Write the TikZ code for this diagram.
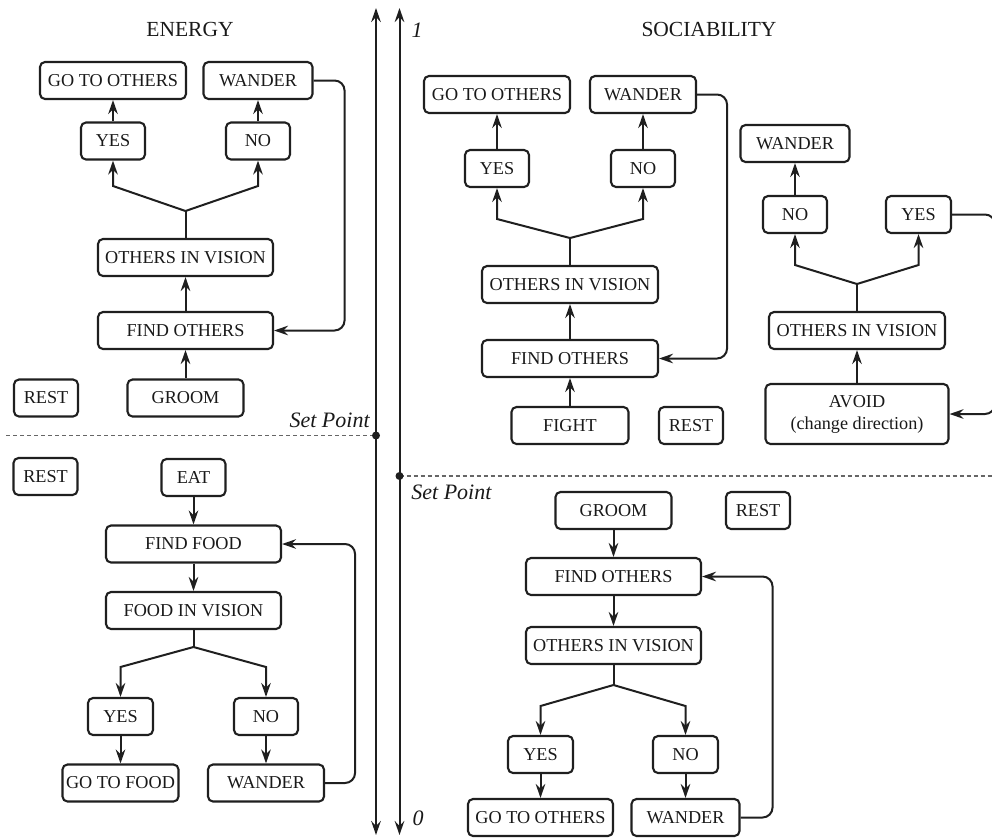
\documentclass[tikz,border=0pt]{standalone}
\usepackage{fontspec}
\setmainfont{Liberation Serif}
\usetikzlibrary{arrows.meta}
\begin{document}
\begin{tikzpicture}[x=0.5pt,y=-0.5pt,
  box/.style={draw=black!88, line width=1.05pt, rounded corners=2.5pt, inner sep=0pt,
    minimum height=18.5pt, font=\fontsize{9.1}{11}\selectfont, align=center, text=black!90},
  arr/.style={line width=1pt, draw=black!88, -{Stealth[length=7pt,width=4.8pt,inset=2.4pt]}},
  plain/.style={line width=1pt, draw=black!88},
  loopline/.style={arr, rounded corners=5pt},
  axisline/.style={line width=1pt, draw=black!88,
    {Stealth[length=7pt,width=4.8pt,inset=2.4pt]}-{Stealth[length=7pt,width=4.8pt,inset=2.4pt]}},
  lbl/.style={font=\fontsize{11}{13}\selectfont\itshape, inner sep=0pt, text=black!90},
  ttl/.style={font=\fontsize{10.75}{13}\selectfont, inner sep=0pt, text=black!90},
  setline/.style={draw=black!60, line width=0.6pt, dash pattern=on 2pt off 1.5pt}
]
\useasboundingbox (0,0) rectangle (992,837);

% ---------------- axes ----------------
\coordinate (a1t) at (376,8);
\coordinate (a1b) at (376,835);
\coordinate (a2t) at (399.5,8);
\coordinate (a2b) at (399.5,835);
\draw[axisline] (a1b) -- (a1t);
\draw[axisline] (a2b) -- (a2t);
\coordinate (sp1) at (376,435.5);
\coordinate (sp2) at (399.5,476);
\coordinate (d1) at (6,435.5);
\coordinate (d2) at (992,476);
\draw[setline] (d1) -- (sp1);
\draw[setline] (sp2) -- (d2);
\fill[black!88] (sp1) circle (2pt);
\fill[black!88] (sp2) circle (2pt);
\node[lbl] (one) at (417,30) {1};
\node[lbl] (zero) at (418,818) {0};
\node[lbl, anchor=east] (esp) at (370,420) {Set Point};
\node[lbl, anchor=west] (ssp) at (411,492) {Set Point};

% ---------------- titles ----------------
\node[ttl] (etitle) at (190,29) {ENERGY};
\node[ttl] (stitle) at (709,29) {SOCIABILITY};

% ---------------- energy, above set point ----------------
\node[box, minimum width=73pt] (eg) at (113,80.5) {GO TO OTHERS};
\node[box, minimum width=54.5pt] (ew) at (258,80.5) {WANDER};
\node[box, minimum width=32pt] (ey) at (113,141) {YES};
\node[box, minimum width=32pt] (en) at (258,141) {NO};
\node[box, minimum width=87.5pt] (eo) at (185.5,257.5) {OTHERS IN VISION};
\node[box, minimum width=87.5pt] (ef) at (185.5,330.5) {FIND OTHERS};
\node[box, minimum width=58pt] (egr) at (185.5,398) {GROOM};
\node[box, minimum width=32pt] (er) at (46,398) {REST};
\coordinate (ej) at (185.5,211);
\coordinate (ejl) at (113,186);
\coordinate (ejr) at (258,186);
\draw[arr] (ey) -- (eg);
\draw[arr] (en) -- (ew);
\draw[plain] (eo) -- (ej);
\draw[arr] (ej) -- (ejl) -- (ey);
\draw[arr] (ej) -- (ejr) -- (en);
\draw[arr] (ef) -- (eo);
\draw[arr] (egr) -- (ef);
\draw[loopline] (ew.east) -- ++(31,0) |- (ef.east);

% ---------------- energy, below set point ----------------
\node[box, minimum width=32pt] (lr) at (45.5,476.5) {REST};
\node[box, minimum width=32pt] (le) at (193.5,477.5) {EAT};
\node[box, minimum width=87.5pt] (lf) at (193.5,544) {FIND FOOD};
\node[box, minimum width=87.5pt] (lv) at (193.5,610.5) {FOOD IN VISION};
\node[box, minimum width=32.5pt] (ly) at (120.5,716.5) {YES};
\node[box, minimum width=32pt] (lno) at (266,716.5) {NO};
\node[box, minimum width=58pt] (lg) at (120.5,783) {GO TO FOOD};
\node[box, minimum width=58pt] (lw) at (266,783) {WANDER};
\coordinate (lj) at (193.5,647);
\coordinate (ljl) at (120.5,667);
\coordinate (ljr) at (266,667);
\draw[arr] (le) -- (lf);
\draw[arr] (lf) -- (lv);
\draw[plain] (lv) -- (lj);
\draw[arr] (lj) -- (ljl) -- (ly);
\draw[arr] (lj) -- (ljr) -- (lno);
\draw[arr] (ly) -- (lg);
\draw[arr] (lno) -- (lw);
\draw[loopline] (lw.east) -- ++(30,0) |- (lf.east);

% ---------------- sociability, above set point ----------------
\node[box, minimum width=73pt] (sg) at (497,94.5) {GO TO OTHERS};
\node[box, minimum width=53pt] (sw) at (643,94.5) {WANDER};
\node[box, minimum width=32pt] (sy) at (497,168.5) {YES};
\node[box, minimum width=32pt] (sn) at (643,168.5) {NO};
\node[box, minimum width=88pt] (so) at (570,284.5) {OTHERS IN VISION};
\node[box, minimum width=88pt] (sf) at (570,358.5) {FIND OTHERS};
\node[box, minimum width=58.5pt] (sfi) at (570,425.5) {FIGHT};
\node[box, minimum width=32pt] (sr) at (691,425.5) {REST};
\coordinate (sj) at (570,238);
\coordinate (sjl) at (497,219);
\coordinate (sjr) at (643,219);
\draw[arr] (sy) -- (sg);
\draw[arr] (sn) -- (sw);
\draw[plain] (so) -- (sj);
\draw[arr] (sj) -- (sjl) -- (sy);
\draw[arr] (sj) -- (sjr) -- (sn);
\draw[arr] (sf) -- (so);
\draw[arr] (sfi) -- (sf);
\draw[loopline] (sw.east) -- ++(30,0) |- (sf.east);

% avoid branch
\node[box, minimum width=54.5pt] (aw) at (795,143.5) {WANDER};
\node[box, minimum width=32pt] (an) at (795,214.5) {NO};
\node[box, minimum width=32.5pt] (ay) at (918.5,214.5) {YES};
\node[box, minimum width=88pt] (ao) at (857,330.5) {OTHERS IN VISION};
\node[box, minimum width=91.5pt, minimum height=30pt] (av) at (857,414) {AVOID\\(change direction)};
\coordinate (aj) at (857,284);
\coordinate (ajl) at (795,265);
\coordinate (ajr) at (918.5,265);
\draw[arr] (an) -- (aw);
\draw[plain] (ao) -- (aj);
\draw[arr] (aj) -- (ajl) -- (an);
\draw[arr] (aj) -- (ajr) -- (ay);
\draw[arr] (av) -- (ao);
\draw[loopline] (ay.east) -- ++(43,0) |- (av.east);

% ---------------- sociability, below set point ----------------
\node[box, minimum width=58pt] (gg) at (613.5,510.5) {GROOM};
\node[box, minimum width=32pt] (gr) at (758,510.5) {REST};
\node[box, minimum width=87.5pt] (gf) at (613.5,576.5) {FIND OTHERS};
\node[box, minimum width=87.5pt] (go) at (613.5,645.5) {OTHERS IN VISION};
\node[box, minimum width=32.5pt] (gy) at (540.5,754.5) {YES};
\node[box, minimum width=32.5pt] (gn) at (685.5,754.5) {NO};
\node[box, minimum width=72.5pt] (gt) at (540.5,817.5) {GO TO OTHERS};
\node[box, minimum width=54pt] (gw) at (685.5,817.5) {WANDER};
\coordinate (gj) at (613.5,685);
\coordinate (gjl) at (540.5,706);
\coordinate (gjr) at (685.5,706);
\draw[arr] (gg) -- (gf);
\draw[arr] (gf) -- (go);
\draw[plain] (go) -- (gj);
\draw[arr] (gj) -- (gjl) -- (gy);
\draw[arr] (gj) -- (gjr) -- (gn);
\draw[arr] (gy) -- (gt);
\draw[arr] (gn) -- (gw);
\draw[loopline] (gw.east) -- ++(32,0) |- (gf.east);
\end{tikzpicture}
\end{document}
